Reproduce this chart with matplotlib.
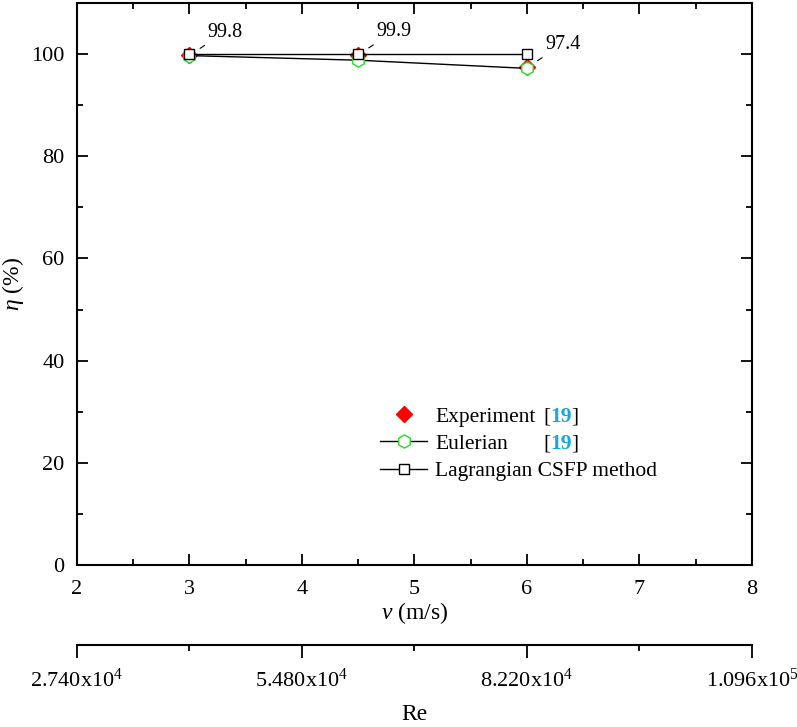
import matplotlib.pyplot as plt
from matplotlib.ticker import MultipleLocator, FixedLocator, FixedFormatter

plt.rcParams['font.family'] = 'Liberation Serif'
plt.rcParams['mathtext.fontset'] = 'custom'
plt.rcParams['mathtext.rm'] = 'Liberation Serif'
plt.rcParams['mathtext.it'] = 'Liberation Serif:italic'

v = [3, 4.5, 6]
experiment = [99.8, 99.9, 97.4]
eulerian = [99.7, 98.8, 97.2]
lagrangian = [100.0, 100.0, 100.0]
labels = ['99.8', '99.9', '97.4']

re_ticks = [2.74e4, 5.48e4, 8.22e4, 1.096e5]
re_minor = [4.11e4, 6.85e4, 9.59e4]
re_labels = ['2.740x10$^4$', '5.480x10$^4$', '8.220x10$^4$', '1.096x10$^5$']
re_per_v = 1.37e4

fig = plt.figure(figsize=(7.97, 7.27), dpi=100)
ax = fig.add_axes([0.0966, 0.2228, 0.8469, 0.7731])

ax.plot(v, lagrangian, '-', color='black', lw=1, marker='s', ms=7.5,
        mfc='white', mec='black', mew=1, label='Lagrangian CSFP method', zorder=4)
ax.plot(v, eulerian, '-', color='black', lw=1, marker='h', ms=9.5,
        mfc='white', mec='#22dd22', mew=1, label='Eulerian', zorder=3)
ax.plot(v, experiment, 'D', color='red', ms=8.5, ls='none',
        label='Experiment', zorder=2)

for x, y, t in zip(v, experiment, labels):
    ax.annotate(t, xy=(x, y), xytext=(13, 9.5), textcoords='offset points',
                fontsize=14.5, ha='left', va='bottom',
                arrowprops=dict(arrowstyle='-', lw=0.8, shrinkA=1, shrinkB=9))

ax.set_xlim(2, 8)
ax.set_ylim(0, 110)
ax.xaxis.set_major_locator(MultipleLocator(1))
ax.xaxis.set_minor_locator(MultipleLocator(0.5))
ax.yaxis.set_major_locator(MultipleLocator(20))
ax.yaxis.set_minor_locator(MultipleLocator(10))
ax.tick_params(which='both', direction='in', labelsize=16, width=1.3,
               top=True, right=True)
ax.tick_params(axis='x', pad=11)
ax.tick_params(axis='y', pad=9)
ax.tick_params(which='major', length=8)
ax.tick_params(which='minor', length=4)
for s in ax.spines.values():
    s.set_linewidth(1.5)
ax.set_xlabel('$v$ (m/s)', fontsize=17)
ax.set_ylabel('$\\eta$ (%)', fontsize=17)
ax.xaxis.set_label_coords(0.5, -0.062)
ax.yaxis.set_label_coords(-0.076, 0.5)

handles, lbls = ax.get_legend_handles_labels()
order = [2, 1, 0]
leg = ax.legend([handles[i] for i in order], [lbls[i] for i in order],
                loc='upper left', bbox_to_anchor=(0.436, 0.297),
                borderaxespad=0, frameon=False,
                fontsize=15.5, handlelength=2.2, handletextpad=0.37,
                labelspacing=0.33)

fig.canvas.draw()
texts = leg.get_texts()
cite_x = (543 - 77) / 675


def cite(anchor):
    a = ax.annotate('[', xy=(cite_x, 0), xycoords=('axes fraction', anchor),
                    fontsize=15.5, va='bottom')
    b = ax.annotate('19', xy=(1, 0), xycoords=a, fontsize=15.5, va='bottom',
                    color='#1aa6e0', fontweight='bold')
    ax.annotate(']', xy=(1, 0), xycoords=b, fontsize=15.5, va='bottom')


cite(texts[0])
cite(texts[1])

sec = ax.secondary_xaxis(-0.1423, functions=(lambda x: x * re_per_v,
                                             lambda r: r / re_per_v))
sec.xaxis.set_major_locator(FixedLocator(re_ticks))
sec.xaxis.set_major_formatter(FixedFormatter(re_labels))
sec.xaxis.set_minor_locator(FixedLocator(re_minor))
sec.tick_params(which='both', direction='out', labelsize=16, width=1.3, pad=8)
sec.tick_params(which='major', length=9)
sec.tick_params(which='minor', length=4)
sec.spines['bottom'].set_linewidth(1.5)
sec.set_xlabel('Re', fontsize=17, labelpad=9)

fig.savefig('out.png', dpi=100)
